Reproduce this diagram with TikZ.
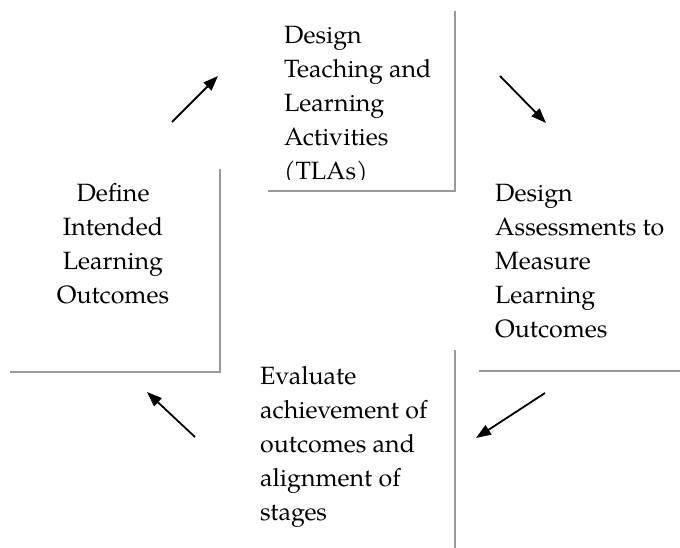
\documentclass[tikz,border=0pt]{standalone}
\usepackage{fontspec}
\setmainfont{TeX Gyre Pagella}
\usetikzlibrary{arrows.meta}
\definecolor{linegray}{HTML}{9A9A9A}
\tikzset{
  frameline/.style={draw=linegray, line width=2.5pt},
  cyclearrow/.style={draw=black, line width=1.8pt, -{Triangle[length=15pt,width=11pt]}},
  stagetext/.style={inner sep=0pt, font=\fontsize{25}{34}\selectfont},
}
\begin{document}
\begin{tikzpicture}[x=1pt,y=-1pt]
\useasboundingbox (0,0) rectangle (680,548);
% frame lines
\draw[frameline] (455,11) -- (455,191) -- (268,191);
\draw[frameline] (220,169) -- (220,372) -- (10,372);
\draw[frameline] (479,371) -- (680,371);
\draw[frameline] (455,350) -- (455,548);
% texts
\begin{scope}
\clip (250,0) rectangle (450,180);
\node[stagetext, anchor=base west] (tla) at (284,44)
  {\begin{tabular}[t]{@{}l@{}}Design\\Teaching and\\Learning\\Activities\\(TLAs)\end{tabular}};
\end{scope}
\node[stagetext, anchor=base] (ilo) at (113,202)
  {\begin{tabular}[t]{@{}c@{}}Define\\Intended\\Learning\\Outcomes\end{tabular}};
\node[stagetext, anchor=base west] (assess) at (495,202)
  {\begin{tabular}[t]{@{}l@{}}Design\\Assessments to\\Measure\\Learning\\Outcomes\end{tabular}};
\node[stagetext, anchor=base west] (eval) at (260,384)
  {\begin{tabular}[t]{@{}l@{}}Evaluate\\achievement of\\outcomes and\\alignment of\\stages\end{tabular}};
% arrows
\coordinate (a1s) at (172,122); \coordinate (a1e) at (218,76);
\coordinate (a2s) at (500,76);  \coordinate (a2e) at (546,123);
\coordinate (a3s) at (545,393); \coordinate (a3e) at (476,438);
\coordinate (a4s) at (195,437); \coordinate (a4e) at (147,392);
\draw[cyclearrow] (a1s) -- (a1e);
\draw[cyclearrow] (a2s) -- (a2e);
\draw[cyclearrow] (a3s) -- (a3e);
\draw[cyclearrow] (a4s) -- (a4e);
\end{tikzpicture}
\end{document}
